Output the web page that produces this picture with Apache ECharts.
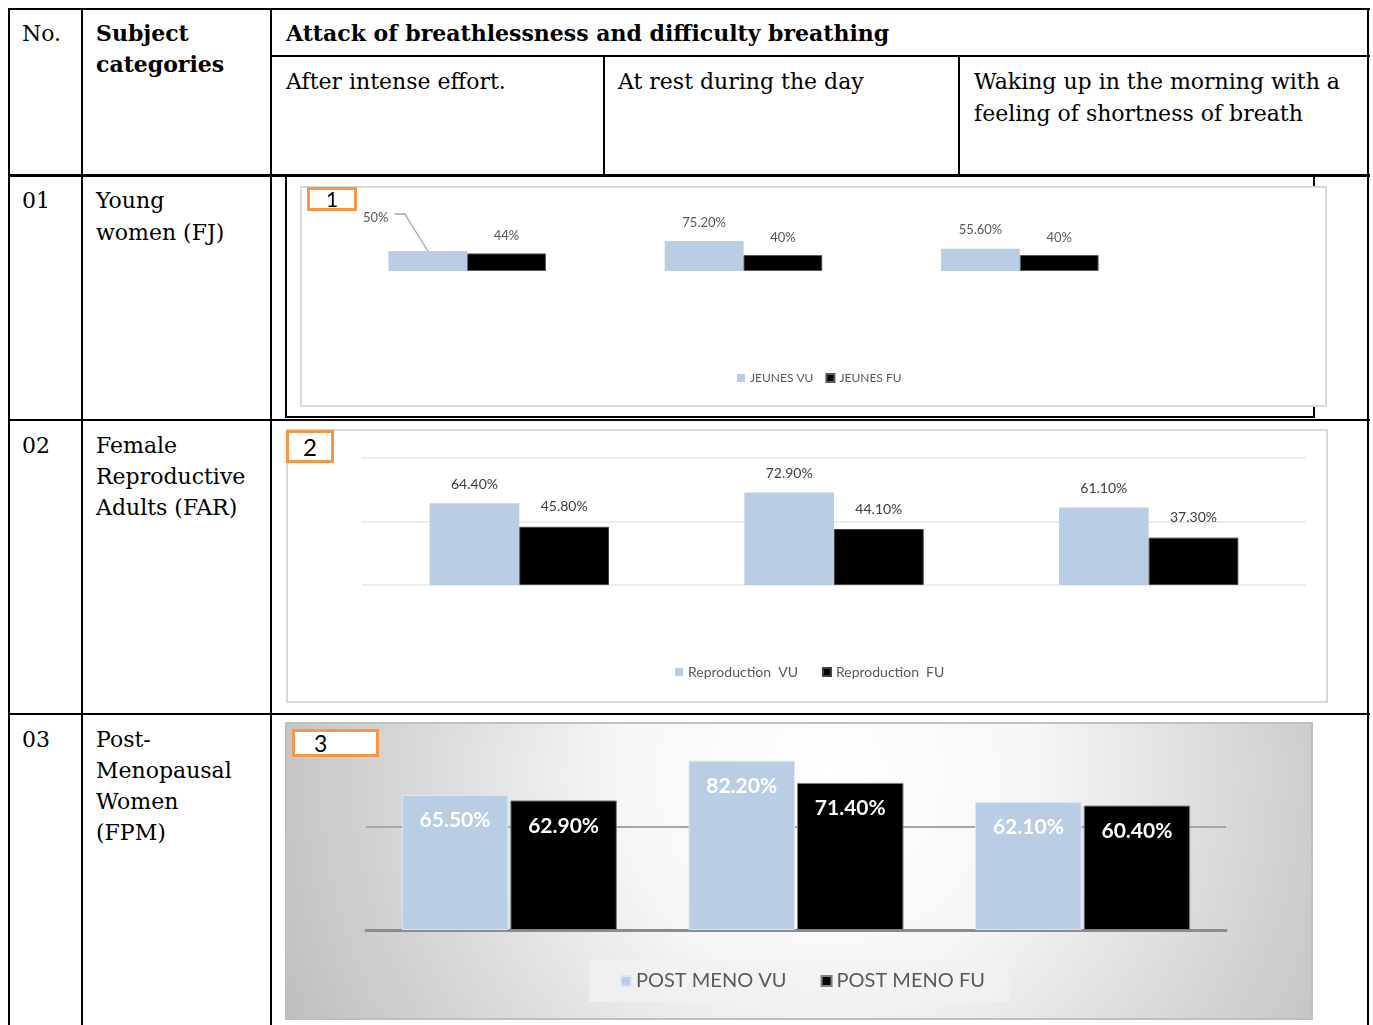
<!DOCTYPE html>
<html>
<head>
<meta charset="utf-8">
<script src="https://cdn.jsdelivr.net/npm/echarts/dist/echarts.min.js"></script>
<style>
  html, body { margin: 0; padding: 0; background: #fff; }
  #page { position: relative; width: 1373px; height: 1025px; overflow: hidden; background: #fff; }
  .ln { position: absolute; background: #000; }
  .tx { position: absolute; font-family: "DejaVu Serif", serif;
        font-size: 22px; line-height: 31px; color: #000; white-space: nowrap; }
  .b { font-weight: bold; }
  .chart { position: absolute; box-sizing: border-box; }
  .tag { position: absolute; box-sizing: border-box; border: 3px solid #f79646; background: #fff;
         font-family: Lato, "Noto Sans", sans-serif; color: #000; }
</style>
</head>
<body>
<div id="page">
  <!-- table grid -->
  <div class="ln" style="left:8px;top:8px;width:1362px;height:2px"></div>
  <div class="ln" style="left:271px;top:55px;width:1099px;height:2px"></div>
  <div class="ln" style="left:8px;top:174px;width:1362px;height:3px"></div>
  <div class="ln" style="left:8px;top:419px;width:1362px;height:2px"></div>
  <div class="ln" style="left:8px;top:713px;width:1362px;height:2px"></div>
  <div class="ln" style="left:8px;top:8px;width:2px;height:1017px"></div>
  <div class="ln" style="left:81px;top:8px;width:2px;height:1017px"></div>
  <div class="ln" style="left:270px;top:8px;width:2px;height:1017px"></div>
  <div class="ln" style="left:1367px;top:8px;width:2px;height:1017px"></div>
  <div class="ln" style="left:603px;top:55px;width:2px;height:120px"></div>
  <div class="ln" style="left:958px;top:55px;width:2px;height:120px"></div>
  <!-- frame round chart 1 -->
  <div class="ln" style="left:285px;top:175px;width:2px;height:243px"></div>
  <div class="ln" style="left:1313px;top:175px;width:2px;height:243px"></div>
  <div class="ln" style="left:285px;top:416px;width:1030px;height:2px"></div>

  <div class="tx" style="left:22px;top:18px">No.</div>
  <div class="tx b" style="left:96px;top:18px">Subject<br>categories</div>
  <div class="tx b" style="left:286px;top:18px">Attack of breathlessness and difficulty breathing</div>
  <div class="tx" style="left:286px;top:66px">After intense effort.</div>
  <div class="tx" style="left:618px;top:66px">At rest during the day</div>
  <div class="tx" style="left:974px;top:66px;line-height:32px">Waking up in the morning with a<br>feeling of shortness of breath</div>

  <div class="tx" style="left:22px;top:185px">01</div>
  <div class="tx" style="left:96px;top:185px;line-height:32px">Young<br>women (FJ)</div>
  <div class="tx" style="left:22px;top:430px">02</div>
  <div class="tx" style="left:96px;top:430px">Female<br>Reproductive<br>Adults (FAR)</div>
  <div class="tx" style="left:22px;top:724px">03</div>
  <div class="tx" style="left:96px;top:724px">Post-<br>Menopausal<br>Women<br>(FPM)</div>

  <div id="c1" class="chart" style="left:300px;top:186px;width:1027px;height:221px;border:2px solid #d9d9d9"></div>
  <div id="c2" class="chart" style="left:286px;top:429px;width:1042px;height:274px;border:2px solid #d9d9d9"></div>
  <div id="c3" class="chart" style="left:285px;top:722px;width:1028px;height:298px;border:2px solid #bfbfbf"></div>

  <div class="tag" style="left:307px;top:187px;width:50px;height:24px;font-size:21px;line-height:18px;text-align:center">1</div>
  <div class="tag" style="left:286px;top:430px;width:48px;height:33px;font-size:24px;line-height:27px;text-align:center">2</div>
  <div class="tag" style="left:292px;top:729px;width:87px;height:28px;font-size:23px;line-height:22px;padding-left:19px">3</div>
</div>
<script>
const categories = ["After intense effort.", "At rest during the day", "Waking up in the morning with a feeling of shortness of breath"];

const jeunesVU = [50, 75.2, 55.6];
const jeunesFU = [44, 40, 40];
const reproVU = [64.4, 72.9, 61.1];
const reproFU = [45.8, 44.1, 37.3];
const postMenoVU = [65.5, 82.2, 62.1];
const postMenoFU = [62.9, 71.4, 60.4];

const VU_COLOR = "#b9cde5";
const FU_COLOR = "#000000";
const FONT = "Lato, 'Noto Sans', sans-serif";

const pct = (p) => {
  const v = typeof p === "number" ? p : p.value;
  return (Number.isInteger(v) ? v : v.toFixed(2)) + "%";
};

// chart 1 : young women
(function () {
  const chart = echarts.init(document.getElementById("c1"), null, { renderer: "canvas" });
  const gap = 0.43;
  chart.setOption({
    animation: false,
    backgroundColor: "#fff",
    grid: { left: 27, top: 43, width: 829, height: 40 },
    xAxis: { type: "category", data: categories, show: false },
    yAxis: { type: "value", min: 0, max: 100, show: false },
    legend: {
      left: 430, top: 179, itemWidth: 8, itemHeight: 8, itemGap: 12,
      icon: "rect",
      textStyle: { fontFamily: FONT, fontSize: 12, color: "#595959" },
      data: ["JEUNES VU", "JEUNES FU"]
    },
    series: [
      {
        name: "JEUNES VU", type: "bar", data: jeunesVU,
        barGap: "0%", barCategoryGap: gap * 100 + "%",
        itemStyle: { color: VU_COLOR },
        label: { show: true, position: "top", distance: 12, formatter: pct,
                 fontFamily: FONT, fontSize: 13, color: "#595959" },
        // first label is pushed up-left, with a leader line
        labelLayout: (p) => (p.dataIndex === 0 ? { dx: -52, dy: -15 } : {})
      },
      {
        name: "JEUNES FU", type: "bar", data: jeunesFU,
        itemStyle: { color: FU_COLOR, borderColor: "#595959", borderWidth: 1 },
        label: { show: true, position: "top", distance: 11, formatter: pct,
                 fontFamily: FONT, fontSize: 13, color: "#595959" }
      },
      {
        // leader line of the moved "50%" label
        type: "custom", silent: true, z: 3,
        data: [[0, jeunesVU[0]]],
        renderItem: (params, api) => {
          const p = api.coord([api.value(0), api.value(1)]);
          const bw = api.size([1, 0])[0] * (1 - gap) / 2;
          const x = p[0] - bw / 2, y = p[1];
          return {
            type: "polyline",
            shape: { points: [[x, y], [x - 23, y - 37], [x - 33, y - 37]] },
            style: { stroke: "#a6a6a6", lineWidth: 1.3, fill: null }
          };
        }
      }
    ]
  });
})();

// chart 2 : female reproductive adults
(function () {
  const chart = echarts.init(document.getElementById("c2"), null, { renderer: "canvas" });
  chart.setOption({
    animation: false,
    backgroundColor: "#fff",
    grid: { left: 74, top: 27, width: 944, height: 127 },
    xAxis: { type: "category", data: categories, axisLine: { show: false }, axisTick: { show: false }, axisLabel: { show: false } },
    yAxis: {
      type: "value", min: 0, max: 100, interval: 50,
      axisLabel: { show: false },
      splitLine: { lineStyle: { color: "#ededed", width: 2 } }
    },
    legend: {
      left: 382, top: 229, itemWidth: 8, itemHeight: 8, itemGap: 24,
      icon: "rect",
      textStyle: { fontFamily: FONT, fontSize: 14, color: "#595959" },
      data: ["Reproduction  VU", "Reproduction  FU"]
    },
    series: [
      {
        name: "Reproduction  VU", type: "bar", data: reproVU,
        barGap: "0%", barCategoryGap: "43%",
        itemStyle: { color: VU_COLOR },
        label: { show: true, position: "top", distance: 12, formatter: pct,
                 fontFamily: FONT, fontSize: 14, color: "#404040" }
      },
      {
        name: "Reproduction  FU", type: "bar", data: reproFU,
        itemStyle: { color: FU_COLOR, borderColor: "#404040", borderWidth: 1 },
        label: { show: true, position: "top", distance: 13, formatter: pct,
                 fontFamily: FONT, fontSize: 14, color: "#404040" }
      }
    ]
  });
})();

// chart 3 : post-menopausal women
(function () {
  const chart = echarts.init(document.getElementById("c3"), null, { renderer: "canvas" });
  chart.setOption({
    animation: false,
    backgroundColor: new echarts.graphic.RadialGradient(540, 50, 600, [
      { offset: 0, color: "#ffffff" },
      { offset: 0.35, color: "#f6f6f6" },
      { offset: 1, color: "#bdbdbd" }
    ], true),
    grid: { left: 79, top: 0, width: 860, height: 206 },
    xAxis: {
      type: "category", data: categories,
      axisLine: { show: true, lineStyle: { color: "#8c8c8c", width: 3 } },
      axisTick: { show: false }, axisLabel: { show: false }
    },
    yAxis: {
      type: "value", min: 0, max: 100, interval: 50,
      axisLabel: { show: false },
      splitLine: { lineStyle: { color: ["rgba(0,0,0,0)", "#a6a6a6", "rgba(0,0,0,0)"], width: 2 } }
    },
    legend: {
      left: 302, top: 236, itemWidth: 10, itemHeight: 10, itemGap: 34,
      padding: [11, 24, 11, 31],
      backgroundColor: "rgba(242,242,242,0.75)",
      icon: "rect",
      textStyle: { fontFamily: FONT, fontSize: 20, color: "#595959" },
      data: ["POST MENO VU", "POST MENO FU"]
    },
    series: [
      {
        name: "POST MENO VU", type: "bar", data: postMenoVU,
        barGap: "2%", barCategoryGap: "25%",
        itemStyle: { color: VU_COLOR, borderColor: "#dce6f2", borderWidth: 1 },
        label: { show: true, position: "insideTop", distance: 15, formatter: pct,
                 fontFamily: FONT, fontWeight: "bold", fontSize: 21, color: "#ffffff" }
      },
      {
        name: "POST MENO FU", type: "bar", data: postMenoFU,
        itemStyle: { color: FU_COLOR, borderColor: "#7f7f7f", borderWidth: 1 },
        label: { show: true, position: "insideTop", distance: 15, formatter: pct,
                 fontFamily: FONT, fontWeight: "bold", fontSize: 21, color: "#ffffff" }
      }
    ]
  });
})();
</script>
</body>
</html>
